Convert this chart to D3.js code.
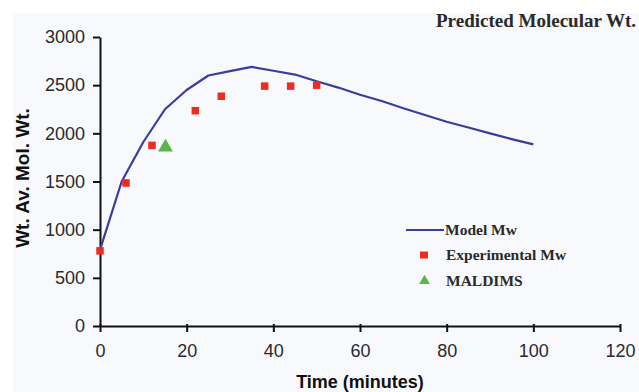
<!DOCTYPE html>
<html>
<head>
<meta charset="utf-8">
<script src="https://cdn.jsdelivr.net/npm/d3@7.9.0/dist/d3.min.js"></script>
<style>
  body { margin: 0; background: #fff; }
  svg { display: block; }
</style>
</head>
<body>
<div id="chart"></div>
<script>
// Model Mw (blue line)
const modelTime = [0, 5, 10, 15, 20, 25, 30, 35, 40, 45, 50, 55, 60, 65, 70, 75, 80, 85, 90, 95, 100];
const modelMw = [790, 1500, 1910, 2250, 2450, 2600, 2645, 2690, 2650, 2610, 2540, 2475, 2400, 2335, 2260, 2190, 2120, 2060, 2000, 1940, 1885];

// Experimental Mw (red squares)
const expTime = [0, 6, 12, 22, 28, 38, 44, 50];
const expMw = [780, 1485, 1875, 2235, 2385, 2490, 2490, 2500];

// MALDIMS (green triangle)
const maldiTime = [15];
const maldiMw = [1845];

const xTicks = [0, 20, 40, 60, 80, 100, 120];
const yTicks = [0, 500, 1000, 1500, 2000, 2500, 3000];

const width = 639, height = 392;
const svg = d3.select("#chart").append("svg")
  .attr("width", width).attr("height", height);

// faint plot background
svg.append("rect")
  .attr("x", 13).attr("y", 13)
  .attr("width", width - 13).attr("height", height - 13)
  .attr("fill", "#f8f9fd");

const x = d3.scaleLinear().domain([0, 120]).range([100, 620]);
const y = d3.scaleLinear().domain([0, 3000]).range([326, 37]);

const lineColor = "#3b3d9c";
const red = "#ee2a22";
const green = "#5ab646";

// --- Axes ---
const xAxis = svg.append("g")
  .attr("transform", `translate(0, ${y(0)})`)
  .call(d3.axisBottom(x).tickValues(xTicks).tickFormat(d3.format("d"))
    .tickSize(6).tickPadding(12).tickSizeOuter(0));
const yAxis = svg.append("g")
  .attr("transform", `translate(${x(0)}, 0)`)
  .call(d3.axisLeft(y).tickValues(yTicks).tickFormat(d3.format("d"))
    .tickSize(7).tickPadding(8).tickSizeOuter(0));

[xAxis, yAxis].forEach((g) => {
  g.select(".domain").attr("stroke", "#111").attr("stroke-width", 2);
  g.selectAll(".tick line").attr("stroke", "#111").attr("stroke-width", 2);
  g.selectAll(".tick text")
    .attr("fill", "#2a2a2a")
    .style("font-family", "Arial, 'Liberation Sans', sans-serif")
    .style("font-size", "18px");
});
xAxis.selectAll(".tick line").attr("y1", -2);

// --- Model line ---
const modelData = modelTime.map((t, i) => ({ t, v: modelMw[i] }));
svg.append("path")
  .datum(modelData)
  .attr("fill", "none")
  .attr("stroke", lineColor)
  .attr("stroke-width", 2.2)
  .attr("stroke-linejoin", "round")
  .attr("d", d3.line().x((d) => x(d.t)).y((d) => y(d.v)));

// --- Experimental squares ---
const sq = 7.5;
svg.append("g").selectAll("rect")
  .data(expTime.map((t, i) => ({ t, v: expMw[i] })))
  .join("rect")
  .attr("x", (d) => x(d.t) - sq / 2)
  .attr("y", (d) => y(d.v) - sq / 2)
  .attr("width", sq).attr("height", sq)
  .attr("fill", red);

// --- MALDIMS triangle ---
const tri = d3.symbol().type(d3.symbolTriangle).size(95);
svg.append("g").selectAll("path")
  .data(maldiTime.map((t, i) => ({ t, v: maldiMw[i] })))
  .join("path")
  .attr("transform", (d) => `translate(${x(d.t) + 0.5}, ${y(d.v) - 1})`)
  .attr("d", tri)
  .attr("fill", green);

// --- Axis titles ---
svg.append("text")
  .attr("x", 360).attr("y", 388)
  .attr("text-anchor", "middle")
  .style("font-family", "Arial, 'Liberation Sans', sans-serif")
  .style("font-weight", "bold").style("font-size", "18px")
  .attr("fill", "#111")
  .text("Time (minutes)");

svg.append("text")
  .attr("transform", "translate(29, 178) rotate(-90)")
  .attr("text-anchor", "middle")
  .style("font-family", "Arial, 'Liberation Sans', sans-serif")
  .style("font-weight", "bold").style("font-size", "19px")
  .attr("fill", "#111")
  .text("Wt. Av. Mol. Wt.");

// --- Title ---
svg.append("text")
  .attr("x", 636).attr("y", 27)
  .attr("text-anchor", "end")
  .style("font-family", "'Liberation Serif', 'Times New Roman', serif")
  .style("font-weight", "bold").style("font-size", "19px")
  .attr("fill", "#2a2a2a")
  .text("Predicted Molecular Wt.");

// --- Legend ---
const legend = svg.append("g")
  .style("font-family", "'Liberation Serif', 'Times New Roman', serif")
  .style("font-weight", "bold").style("font-size", "15.5px")
  .attr("fill", "#2a2a2a");

legend.append("line")
  .attr("x1", 406).attr("x2", 444).attr("y1", 230).attr("y2", 230)
  .attr("stroke", lineColor).attr("stroke-width", 2);
legend.append("text").attr("x", 445).attr("y", 235).text("Model Mw");

legend.append("rect")
  .attr("x", 420).attr("y", 251.5).attr("width", 8).attr("height", 7)
  .attr("fill", red);
legend.append("text").attr("x", 446).attr("y", 260).text("Experimental Mw");

legend.append("path")
  .attr("transform", "translate(424.5, 281)")
  .attr("d", d3.symbol().type(d3.symbolTriangle).size(50))
  .attr("fill", green);
legend.append("text").attr("x", 446).attr("y", 286).text("MALDIMS");
</script>
</body>
</html>
